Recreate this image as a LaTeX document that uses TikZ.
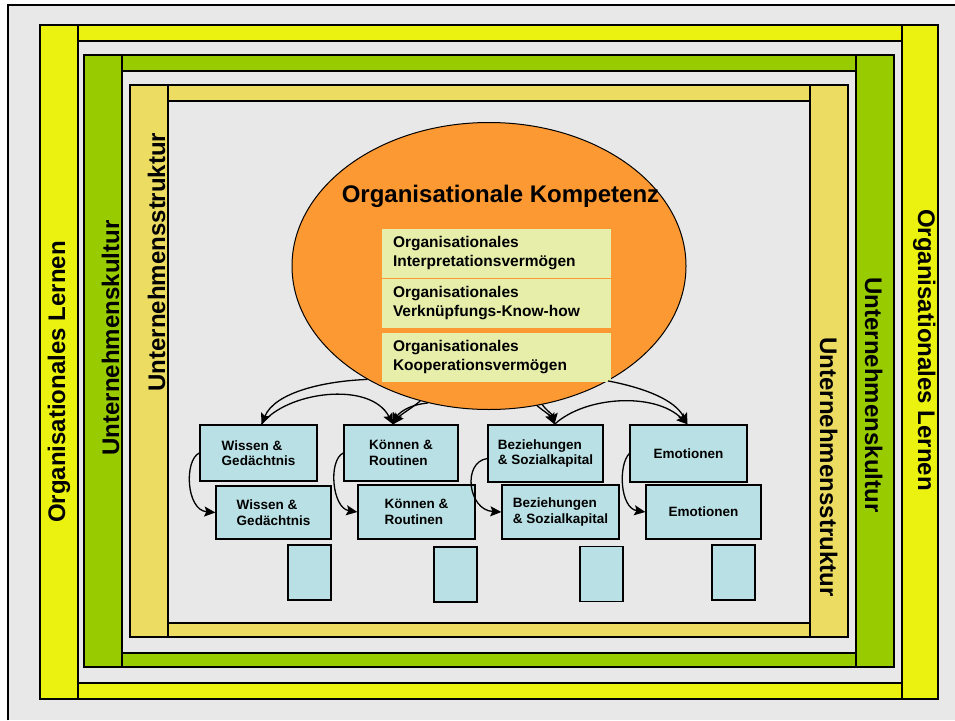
\documentclass[tikz,border=0pt]{standalone}
\usepackage{fontspec}
\setmainfont{Liberation Sans}
\usetikzlibrary{shapes.geometric,arrows.meta}
\definecolor{bggray}{RGB}{232,232,232}
\definecolor{ybar}{RGB}{236,242,16}
\definecolor{gbar}{RGB}{153,204,0}
\definecolor{tbar}{RGB}{236,220,98}
\definecolor{orng}{RGB}{253,153,51}
\definecolor{pale}{RGB}{230,238,170}
\definecolor{lblue}{RGB}{185,224,228}
\begin{document}
\begin{tikzpicture}[x=1pt,y=-1pt,
  barline/.style={draw=black,line width=1.3pt},
  barlabel/.style={font=\fontsize{24}{28}\selectfont\bfseries,inner sep=0pt,anchor=base},
  palebox/.style={fill=pale,text width=207pt,inner xsep=11pt,inner ysep=0pt,minimum height=49pt,align=left,
    font=\fontsize{15.5}{19}\selectfont\bfseries},
  bluebox/.style={draw=black,fill=lblue,line width=1.3pt,inner sep=0pt,align=left,
    font=\fontsize{13.5}{15.5}\selectfont\bfseries},
  smallbox/.style={draw=black,fill=lblue,line width=1.3pt,inner sep=0pt,minimum width=43pt,minimum height=55pt},
  conn/.style={line width=1.3pt,-{Stealth[length=11pt,width=10pt,inset=2pt]}}
]
\useasboundingbox (0,0) rectangle (955,720);
\fill[white] (0,0) rectangle (955,720);
\fill[bggray] (8,5) rectangle (955,720);
\draw[line width=1.2pt] (8,720) -- (8,5) -- (955,5);

% yellow frame
\draw[barline,fill=ybar] (40,25) rectangle (78,699);
\draw[barline,fill=ybar] (78,25) rectangle (902,41);
\draw[barline,fill=ybar] (902,25) rectangle (938,699);
\draw[barline,fill=ybar] (78,683) rectangle (902,699);
% green frame
\draw[barline,fill=gbar] (84,55) rectangle (122,667);
\draw[barline,fill=gbar] (122,55) rectangle (856,71);
\draw[barline,fill=gbar] (856,55) rectangle (894,667);
\draw[barline,fill=gbar] (122,653) rectangle (856,667);
% tan frame
\draw[barline,fill=tbar] (130,85) rectangle (168,637);
\draw[barline,fill=tbar] (168,85) rectangle (810,101);
\draw[barline,fill=tbar] (810,85) rectangle (848,637);
\draw[barline,fill=tbar] (168,623) rectangle (810,637);

% bar labels
\node[barlabel,rotate=90] (lyl) at (65,382) {Organisationales Lernen};
\node[barlabel,rotate=90] (lgl) at (119,338) {Unternehmenskultur};
\node[barlabel,rotate=90] (ltl) at (165,262) {Unternehmensstruktur};
\node[barlabel,rotate=-90] (ryl) at (918,350) {Organisationales Lernen};
\node[barlabel,rotate=-90] (rgl) at (865,395) {Unternehmenskultur};
\node[barlabel,rotate=-90] (rtl) at (820,467) {Unternehmensstruktur};

% ellipse
\node[ellipse,draw=black,line width=1pt,fill=orng,minimum width=394pt,minimum height=287pt,inner sep=0pt] (ell) at (489,266) {};
\node[font=\fontsize{24}{28}\selectfont\bfseries,anchor=base,inner sep=0pt] (title) at (500.5,202) {Organisationale Kompetenz};
\node[palebox] (p1) at (496.5,253.5) {Organisationales\\Interpretationsvermögen};
\node[palebox] (p2) at (496.5,303.5) {Organisationales\\Verknüpfungs-Know-how};
\node[palebox] (p3) at (496.5,357.5) {Organisationales\\Kooperationsvermögen};

% boxes
\node[bluebox,minimum width=117pt,minimum height=56pt] (W1) at (258.5,453) {Wissen \&\\Gedächtnis};
\node[bluebox,minimum width=115pt,minimum height=53pt] (W2) at (273.5,512.5) {Wissen \&\\Gedächtnis};
\node[smallbox] (Ws) at (309.5,572.5) {};
\node[bluebox,minimum width=114pt,minimum height=56pt] (K1) at (401,453) {Können \&\\Routinen};
\node[bluebox,minimum width=117pt,minimum height=54pt] (K2) at (416.5,512) {Können \&\\Routinen};
\node[smallbox] (Ks) at (455.5,574.5) {};
\node[bluebox,minimum width=115pt,minimum height=57pt] (B1) at (545.5,453.5) {Beziehungen\\\& Sozialkapital};
\node[bluebox,minimum width=117pt,minimum height=54pt] (B2) at (560.5,512) {Beziehungen\\\& Sozialkapital};
\node[smallbox] (Bs) at (601.5,574) {};
\node[bluebox,minimum width=117pt,minimum height=57pt] (E1) at (688.5,453.5) {Emotionen};
\node[bluebox,minimum width=115pt,minimum height=54pt] (E2) at (703.5,512) {Emotionen};
\node[smallbox] (Es) at (733.5,572.5) {};

% connectors from the ellipse
\draw[conn] (ell.223) .. controls (325,381) and (275,392) .. ([xshift=3pt]W1.north);
\draw[conn] ([xshift=3pt]W1.north) .. controls (285,392) and (370,380) .. ([xshift=-8pt]K1.north);
\draw[conn] (ell.243) .. controls (412,408) and (400,415) .. ([xshift=-8pt]K1.north);
\draw[conn] (ell.246) .. controls (407,405) and (398,414) .. ([xshift=-8pt]K1.north);
\draw[conn] (ell.289) .. controls (542,410) and (550,415) .. ([xshift=9pt]B1.north);
\draw[conn] (ell.291) .. controls (546,410) and (553,415) .. ([xshift=9pt]B1.north);
\draw[conn] ([xshift=9pt]B1.north) .. controls (585,396) and (655,392) .. ([xshift=-1pt]E1.north);
\draw[conn] (ell.316) .. controls (645,388) and (675,400) .. ([xshift=-1pt]E1.north);

% connectors between the rows
\draw[conn] (W1.west) .. controls (184,460) and (186,510) .. (W2.west);
\draw[conn] (K1.west) .. controls (328,460) and (332,508) .. (K2.west);
\draw[conn] ([yshift=-5pt]B1.west) .. controls (462,462) and (468,510) .. (B2.west);
\draw[conn] (E1.west) .. controls (618,465) and (620,508) .. (E2.west);
\end{tikzpicture}
\end{document}
